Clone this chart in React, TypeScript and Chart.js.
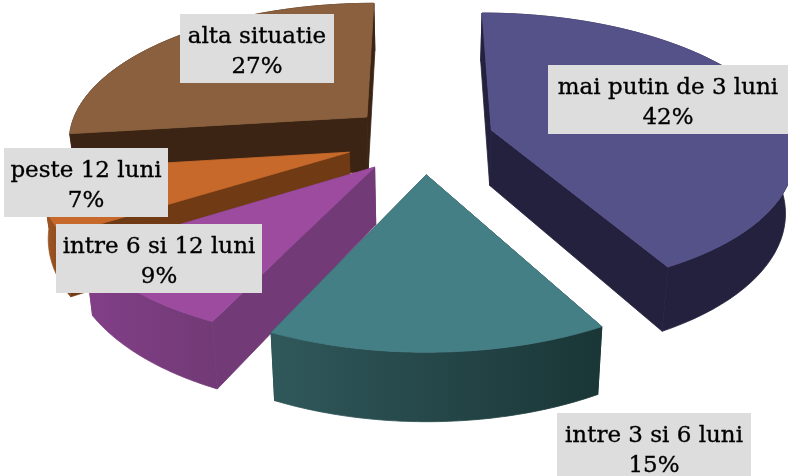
import React, { useEffect, useRef } from "react";
import { Chart, registerables } from "chart.js";

Chart.register(...registerables);

const categories = ["mai putin de 3 luni", "intre 3 si 6 luni", "intre 6 si 12 luni", "peste 12 luni", "alta situatie"];
const shares = [42, 15, 9, 7, 27];
const percentLabels = ["42%", "15%", "9%", "7%", "27%"];
const topColors = ["#55528a", "#457f86", "#9c4b9f", "#c8692c", "#8a603e"];
const sideColors = ["#24213e", "#1c3838", "#723a76", "#6f3a14", "#3b2414"];
const outerLeftColors = ["#24213e", "#30585b", "#823f88", "#a85a26", "#3b2414"];
const outerRightColors = ["#24213e", "#1a3636", "#723a76", "#8a4a1e", "#3b2414"];
const labelBoxes = [
  [548, 65, 240],
  [557, 413, 194],
  [56, 224, 206],
  [4, 148, 164],
  [180, 14, 154],
];
const sliceNudges = [
  [2, -3],
  [3, 0],
  [2, 1],
  [-4, 0],
  [-2, -3],
];
const drawOrder = [4, 3, 2, 0, 1];

const CX = 421, CY = 141, SX = 300, SY = 137.6, PERSP = 0.157;
const EXPLODE = 0.237, DEPTH = 56, SHRINK = 0.977;

const top = (u: number, v: number): [number, number] => {
  const w = 1 - PERSP * v;
  return [CX + (SX * u) / w, CY + (SY * v) / w];
};
const bottom = (u: number, v: number): [number, number] => {
  const w = 1 - PERSP * v;
  const [x, y] = top(u, v);
  return [CX + (x - CX) * SHRINK, y + DEPTH / w];
};
const poly = (ctx: CanvasRenderingContext2D, pts: [number, number][], fill: any) => {
  ctx.beginPath();
  pts.forEach((p, i) => (i ? ctx.lineTo(p[0], p[1]) : ctx.moveTo(p[0], p[1])));
  ctx.closePath();
  ctx.fillStyle = fill;
  ctx.strokeStyle = fill;
  ctx.lineWidth = 0.8;
  ctx.lineJoin = "round";
  ctx.fill();
  ctx.stroke();
};

const pie3d = {
  id: "pie3d",
  beforeDatasetDraw(chart: any) {
    const ctx: CanvasRenderingContext2D = chart.ctx;
    const arcs = chart.getDatasetMeta(0).data;
    drawOrder.forEach((i) => {
      const { startAngle, endAngle } = arcs[i].getProps(["startAngle", "endAngle"], true);
      const mid = (startAngle + endAngle) / 2;
      const ou = EXPLODE * Math.cos(mid), ov = EXPLODE * Math.sin(mid);
      const ring: [number, number][] = [];
      const n = 64;
      for (let k = 0; k <= n; k++) {
        const a = startAngle + ((endAngle - startAngle) * k) / n;
        ring.push([ou + Math.cos(a), ov + Math.sin(a)]);
      }
      const t = ring.map(([u, v]) => top(u, v));
      const b = ring.map(([u, v]) => bottom(u, v));
      const apexT = top(ou, ov), apexB = bottom(ou, ov);
      ctx.save();
      ctx.translate(sliceNudges[i][0], sliceNudges[i][1]);
      poly(ctx, [apexT, t[0], b[0], apexB], sideColors[i]);
      poly(ctx, [apexT, t[n], b[n], apexB], sideColors[i]);
      const xs = t.map((p) => p[0]);
      const g = ctx.createLinearGradient(Math.min(...xs), 0, Math.max(...xs), 0);
      g.addColorStop(0, outerLeftColors[i]);
      g.addColorStop(1, outerRightColors[i]);
      poly(ctx, [...t, ...b.slice().reverse()], g);
      poly(ctx, [apexT, ...t], topColors[i]);
      ctx.restore();
    });
    return false;
  },
  afterDatasetsDraw(chart: any) {
    const ctx: CanvasRenderingContext2D = chart.ctx;
    ctx.save();
    ctx.font = '23px "DejaVu Serif"';
    ctx.textAlign = "center";
    ctx.textBaseline = "alphabetic";
    ctx.lineWidth = 0.35;
    categories.forEach((name, i) => {
      const [x, y, w] = labelBoxes[i];
      ctx.fillStyle = "#dddddd";
      ctx.fillRect(x, y, w, 69);
      ctx.fillStyle = "#000000";
      ctx.strokeStyle = "#000000";
      ctx.fillText(name, x + w / 2, y + 29);
      ctx.strokeText(name, x + w / 2, y + 29);
      ctx.fillText(percentLabels[i], x + w / 2, y + 59);
      ctx.strokeText(percentLabels[i], x + w / 2, y + 59);
    });
    ctx.restore();
  },
};

export default function App() {
  const ref = useRef<HTMLCanvasElement>(null);
  useEffect(() => {
    document.body.style.margin = "0";
    document.body.style.background = "#ffffff";
    const chart = new Chart(ref.current!, {
      type: "pie",
      data: {
        labels: categories,
        datasets: [{ data: shares, backgroundColor: topColors, borderWidth: 0 }],
      },
      options: {
        responsive: false,
        animation: false,
        rotation: 0,
        plugins: { legend: { display: false }, tooltip: { enabled: false } },
      },
      plugins: [pie3d],
    } as any);
    return () => chart.destroy();
  }, []);
  return <canvas ref={ref} width={788} height={476} style={{ display: "block" }} />;
}
